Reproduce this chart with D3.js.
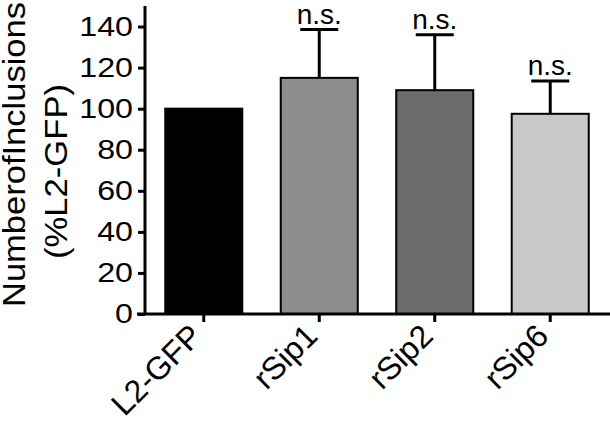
<!DOCTYPE html>
<html lang="en">
<head>
<meta charset="utf-8">
<title>Number of Inclusions</title>
<script src="https://cdn.jsdelivr.net/npm/d3@7"></script>
<style>
  body { margin: 0; background: #fff; }
  text { font-family: "Liberation Sans", Arial, sans-serif; fill: #000; }
</style>
</head>
<body>
<script>
// data
var categories = ["L2-GFP", "rSip1", "rSip2", "rSip6"];
var means = [100, 115, 109, 97.5];
var errors = [0, 23.5, 27, 16];
var sigLabels = ["", "n.s.", "n.s.", "n.s."];
var barColors = ["#000000", "#8c8c8c", "#6b6b6b", "#c8c8c8"];
var yTicks = [0, 20, 40, 60, 80, 100, 120, 140];

var w = 610, h = 421;
// tick numbers in the original look a bit wide
var stretch = 1.15;
var svg = d3.select("body").append("svg").attr("width", w).attr("height", h);

var x = d3.scaleBand().domain(categories).range([146, 608]).paddingInner(0.333).paddingOuter(0.1667);
var y = d3.scaleLinear().domain([0, 150]).range([314, 6]);

var data = categories.map(function (c, i) {
    return { cat: c, mean: means[i], err: errors[i], sig: sigLabels[i], color: barColors[i] };
});

// bars
svg.selectAll("rect.bar").data(data).enter().append("rect")
    .attr("class", "bar")
    .attr("x", function (d) { return x(d.cat); })
    .attr("y", function (d) { return y(d.mean); })
    .attr("width", x.bandwidth())
    .attr("height", function (d) { return y(0) - y(d.mean); })
    .attr("fill", function (d) { return d.color; })
    .attr("stroke", "#000")
    .attr("stroke-width", 2);

// error bars, upper only
var eb = data.filter(function (d) { return d.err > 0; });
svg.selectAll("line.err").data(eb).enter().append("line")
    .attr("x1", function (d) { return x(d.cat) + x.bandwidth() / 2; })
    .attr("x2", function (d) { return x(d.cat) + x.bandwidth() / 2; })
    .attr("y1", function (d) { return y(d.mean); })
    .attr("y2", function (d) { return y(d.mean + d.err); })
    .attr("stroke", "#000").attr("stroke-width", 3);
svg.selectAll("line.cap").data(eb).enter().append("line")
    .attr("x1", function (d) { return x(d.cat) + x.bandwidth() / 2 - 19; })
    .attr("x2", function (d) { return x(d.cat) + x.bandwidth() / 2 + 19; })
    .attr("y1", function (d) { return y(d.mean + d.err); })
    .attr("y2", function (d) { return y(d.mean + d.err); })
    .attr("stroke", "#000").attr("stroke-width", 3);

svg.selectAll("text.sig").data(eb).enter().append("text")
    .text(function (d) { return d.sig; })
    .attr("x", function (d) { return x(d.cat) + x.bandwidth() / 2; })
    .attr("y", function (d) { return y(d.mean + d.err) - 6; })
    .attr("text-anchor", "middle")
    .attr("font-size", "28px");

// y axis
var yAxis = d3.axisLeft(y).tickValues(yTicks).tickSize(7).tickPadding(5);
var gy = svg.append("g").attr("transform", "translate(145,0)").call(yAxis);
gy.select(".domain").remove();
gy.append("line").attr("x1", 0).attr("x2", 0).attr("y1", y(150)).attr("y2", y(0))
    .attr("stroke", "#000").attr("stroke-width", 3);
gy.selectAll(".tick line").attr("stroke-width", 3);
gy.selectAll(".tick text")
    .attr("font-size", "28px").attr("font-family", "Liberation Sans, Arial, sans-serif")
    .attr("fill", "#000")
    .attr("x", -12 / stretch)
    .attr("transform", "scale(" + stretch + ",1)");

// x axis
var xAxis = d3.axisBottom(x).tickSize(8).tickFormat("");
var gx = svg.append("g").attr("transform", "translate(0," + y(0) + ")").call(xAxis);
gx.select(".domain").remove();
gx.append("line").attr("x1", 137).attr("x2", 610).attr("y1", 0).attr("y2", 0)
    .attr("stroke", "#000").attr("stroke-width", 3);
gx.selectAll(".tick line").attr("stroke-width", 3);

svg.selectAll("text.xlab").data(categories).enter().append("text")
    .text(function (d) { return d; })
    .attr("text-anchor", "end")
    .attr("font-size", "32px")
    .attr("transform", function (d) {
        return "translate(" + (x(d) + x.bandwidth() / 2) + ",338) rotate(-45)";
    });

// y label, two lines
svg.append("text").text("NumberofInclusions")
    .attr("font-size", "32px")
    .attr("textLength", 305).attr("lengthAdjust", "spacingAndGlyphs")
    .attr("transform", "translate(25,307) rotate(-90)");
svg.append("text").text("(%L2-GFP)")
    .attr("font-size", "32px")
    .attr("textLength", 175).attr("lengthAdjust", "spacingAndGlyphs")
    .attr("transform", "translate(67,259) rotate(-90)");
</script>
</body>
</html>
